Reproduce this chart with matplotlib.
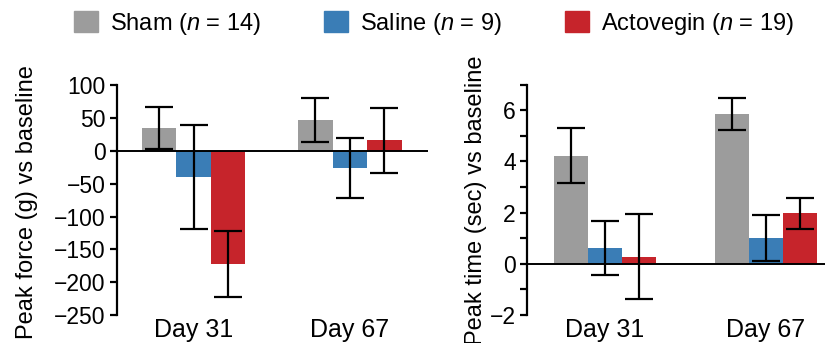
import numpy as np
import matplotlib.pyplot as plt
from matplotlib.patches import Patch

plt.rcParams['font.family'] = ['Liberation Sans', 'DejaVu Sans']
plt.rcParams['mathtext.fontset'] = 'custom'
plt.rcParams['mathtext.rm'] = 'Liberation Sans'
plt.rcParams['mathtext.it'] = 'Liberation Sans:italic'

days = ["Day 31", "Day 67"]
groups = ["Sham ($n$ = 14)", "Saline ($n$ = 9)", "Actovegin ($n$ = 19)"]
colors = ["#9c9c9c", "#3a7db6", "#c6242b"]

# peak force change (g), rows = group, cols = day
force_mean = [[35, 47], [-40, -26], [-172, 16]]
force_err = [[32, 33], [79, 46], [50, 50]]

# peak time change (sec)
time_mean = [[4.22, 5.84], [0.63, 1.0], [0.27, 1.97]]
time_err = [[1.07, 0.62], [1.05, 0.9], [1.66, 0.6]]

fig = plt.figure(figsize=(8.25, 3.43), dpi=100)
ax1 = fig.add_axes([0.1418, 0.0816, 0.377, 0.670])
ax2 = fig.add_axes([0.6388, 0.0816, 0.3612, 0.672])


def draw_panel(ax, means, errs, width, ylim, yticks, ylabels, xlim, ylabel):
    x = np.arange(len(days))
    for i in range(len(groups)):
        ax.bar(x + (i - 1) * width, means[i], width, color=colors[i],
               yerr=errs[i], capsize=10,
               error_kw=dict(elinewidth=1.6, capthick=1.6, ecolor="black"),
               zorder=2)
    ax.axhline(0, color="black", lw=1.4, zorder=3)
    ax.set_xlim(*xlim)
    ax.set_ylim(*ylim)
    ax.set_yticks(yticks)
    ax.set_yticklabels(ylabels)
    ax.set_xticks(x)
    ax.set_xticklabels(days)
    for s in ["top", "right", "bottom"]:
        ax.spines[s].set_visible(False)
    ax.spines["left"].set_linewidth(1.6)
    ax.tick_params(axis="y", length=5, width=1.6, labelsize=16.5, pad=3)
    ax.tick_params(axis="x", length=0, labelsize=18, pad=2)
    ax.set_ylabel(ylabel, fontsize=17, labelpad=4)


yt1 = list(range(-250, 101, 50))
draw_panel(ax1, force_mean, force_err, 0.221, (-250, 100), yt1,
           [str(v).replace("-", "\u2212") for v in yt1], (-0.49, 1.50),
           "Peak force (g) vs baseline")

yt2 = list(range(-2, 8))
draw_panel(ax2, time_mean, time_err, 0.211, (-2, 7), yt2,
           [str(v).replace("-", "\u2212") if v % 2 == 0 else "" for v in yt2],
           (-0.484, 1.366), "Peak time (sec) vs baseline")
ax1.yaxis.set_label_coords(-0.255, 0.49)
ax2.yaxis.set_label_coords(-0.135, 0.5)

handles = [Patch(color=c) for c in colors]
fig.legend(handles, groups, loc="center left", bbox_to_anchor=(0.09, 0.931),
           ncol=3, frameon=False, fontsize=17, handlelength=1.0,
           handleheight=1.0, handletextpad=0.5, columnspacing=2.7,
           borderpad=0, borderaxespad=0)

fig.savefig("out.png", dpi=100)
